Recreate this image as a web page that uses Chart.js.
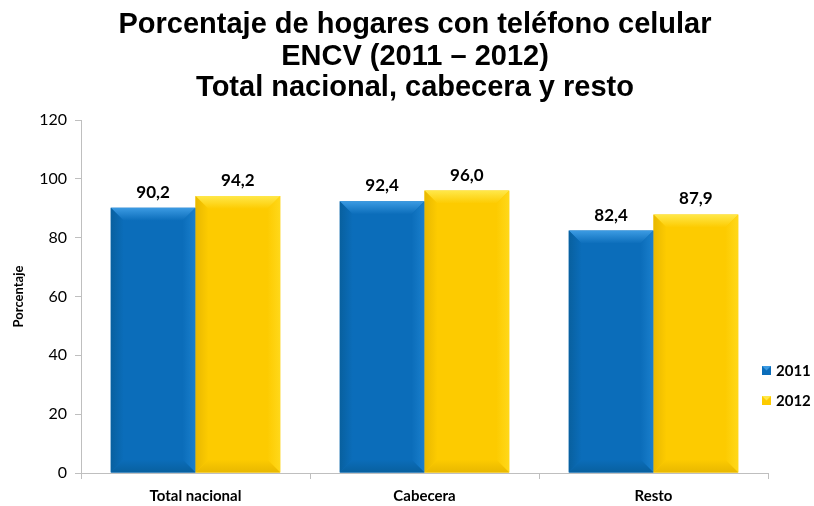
<!DOCTYPE html>
<html><head><meta charset="utf-8">
<script src="https://cdn.jsdelivr.net/npm/chart.js@4"></script>
<style>html,body{margin:0;padding:0;background:#fff}#wrap{width:814px;height:506px}</style>
</head><body><div id="wrap"><canvas id="c" width="814" height="506"></canvas></div>
<script>
const titleLines = ['Porcentaje de hogares con teléfono celular', 'ENCV (2011 – 2012)', 'Total nacional, cabecera y resto'];
const categories = ['Total nacional', 'Cabecera', 'Resto'];
const seriesNames = ['2011', '2012'];
const values2011 = [90.2, 92.4, 82.4];
const values2012 = [94.2, 96.0, 87.9];
const yTicks = [0, 20, 40, 60, 80, 100, 120];
const yTitle = 'Porcentaje';

const palette = [
  {base:'#0B6DBA', top:'#3C9BE3', left:'#08609F', right:'#1A7FCC', bottom:'#08609F'},
  {base:'#FDCB00', top:'#FFE84A', left:'#E8B800', right:'#FFD81A', bottom:'#E8B800'}
];

const titlePlugin = {
  id:'manualTitle',
  afterDraw(chart){
    const ctx = chart.ctx;
    ctx.save();
    ctx.font = 'bold 29px "Liberation Sans", Arial, sans-serif';
    ctx.fillStyle = '#000';
    ctx.textAlign = 'center';
    ctx.textBaseline = 'alphabetic';
    titleLines.forEach((t, i) => ctx.fillText(t, 415, 33 + i * 31.5));
    ctx.restore();
  }
};

const bevelPlugin = {
  id:'bevel',
  afterDatasetsDraw(chart){
    const ctx = chart.ctx;
    chart.data.datasets.forEach((ds, di) => {
      const meta = chart.getDatasetMeta(di);
      const p = palette[di];
      meta.data.forEach(bar => {
        const l = bar.x - bar.width/2, r = bar.x + bar.width/2, t = bar.y, b = bar.base;
        const d = 13;
        ctx.save();
        let g = ctx.createLinearGradient(0, t, 0, t + d);
        g.addColorStop(0, p.top); g.addColorStop(1, p.base);
        ctx.fillStyle = g;
        ctx.beginPath(); ctx.moveTo(l, t); ctx.lineTo(r, t); ctx.lineTo(r - d, t + d); ctx.lineTo(l + d, t + d); ctx.closePath(); ctx.fill();
        g = ctx.createLinearGradient(l, 0, l + d, 0);
        g.addColorStop(0, p.left); g.addColorStop(1, p.base);
        ctx.fillStyle = g;
        ctx.beginPath(); ctx.moveTo(l, t); ctx.lineTo(l + d, t + d); ctx.lineTo(l + d, b - d); ctx.lineTo(l, b); ctx.closePath(); ctx.fill();
        g = ctx.createLinearGradient(r, 0, r - d, 0);
        g.addColorStop(0, p.right); g.addColorStop(1, p.base);
        ctx.fillStyle = g;
        ctx.beginPath(); ctx.moveTo(r, t); ctx.lineTo(r - d, t + d); ctx.lineTo(r - d, b - d); ctx.lineTo(r, b); ctx.closePath(); ctx.fill();
        g = ctx.createLinearGradient(0, b, 0, b - d);
        g.addColorStop(0, p.bottom); g.addColorStop(1, p.base);
        ctx.fillStyle = g;
        ctx.beginPath(); ctx.moveTo(l, b); ctx.lineTo(r, b); ctx.lineTo(r - d, b - d); ctx.lineTo(l + d, b - d); ctx.closePath(); ctx.fill();
        ctx.restore();
      });
      ctx.save();
      ctx.font = 'bold 17px Lato, "Open Sans", sans-serif';
      ctx.fillStyle = '#000';
      ctx.textAlign = 'center';
      ctx.textBaseline = 'alphabetic';
      meta.data.forEach((bar, i) => {
        const v = ds.data[i];
        ctx.fillText(v.toFixed(1).replace('.', ','), bar.x, bar.y - 10);
      });
      ctx.restore();
    });
    ctx.save();
    ctx.font = 'bold 15px Lato, "Open Sans", sans-serif';
    ctx.textBaseline = 'middle';
    ctx.textAlign = 'left';
    chart.data.datasets.forEach((ds, di) => {
      const y = 370 + di * 30;
      const x = 762;
      const p = palette[di];
      ctx.fillStyle = p.base;
      ctx.fillRect(x, y - 4, 9, 9);
      ctx.fillStyle = p.top;
      ctx.beginPath(); ctx.moveTo(x, y - 4); ctx.lineTo(x + 9, y - 4); ctx.lineTo(x + 4.5, y + 0.5); ctx.closePath(); ctx.fill();
      ctx.fillStyle = '#000';
      ctx.fillText(ds.label, x + 14, y + 1);
    });
    ctx.restore();
  }
};

new Chart(document.getElementById('c'), {
  type:'bar',
  data:{
    labels:categories,
    datasets:[
      {label:seriesNames[0], data:values2011, backgroundColor:palette[0].base, borderWidth:0},
      {label:seriesNames[1], data:values2012, backgroundColor:palette[1].base, borderWidth:0}
    ]
  },
  plugins:[bevelPlugin, titlePlugin],
  options:{
    responsive:false,
    animation:false,
    devicePixelRatio:1,
    datasets:{bar:{categoryPercentage:0.74, barPercentage:1.0}},
    layout:{padding:{left:0, right:46, top:120, bottom:0}},
    plugins:{
      legend:{display:false},
      tooltip:{enabled:false},
      title:{display:false}
    },
    scales:{
      x:{
        afterFit(scale){ scale.height = 33; },
        grid:{display:true, drawOnChartArea:false, drawTicks:true, tickLength:6, color:'#BFBFBF', offset:true},
        border:{display:true, color:'#BFBFBF'},
        ticks:{color:'#000', padding:8, font:{family:'Lato, "Open Sans", sans-serif', size:15, weight:'bold'}}
      },
      y:{
        min:0, max:120,
        afterFit(scale){ scale.width = 81; },
        afterBuildTicks(scale){ scale.ticks = yTicks.map(v => ({value:v})); },
        grid:{display:true, drawOnChartArea:false, drawTicks:true, tickLength:6, color:'#BFBFBF'},
        border:{display:true, color:'#BFBFBF'},
        ticks:{color:'#000', padding:8, font:{family:'Lato, "Open Sans", sans-serif', size:16}},
        title:{display:true, text:yTitle, color:'#000', padding:{top:11, bottom:8}, font:{family:'Lato, "Open Sans", sans-serif', size:13, weight:'bold'}}
      }
    }
  }
});
</script></body></html>
